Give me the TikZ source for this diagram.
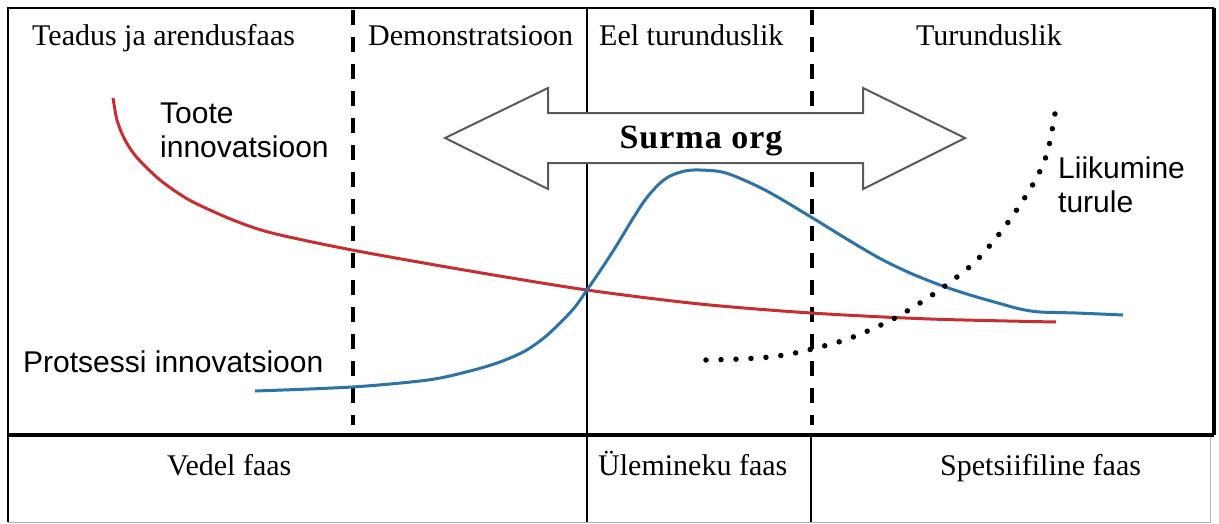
\documentclass[tikz,border=0pt]{standalone}
\usepackage{fontspec}
\setmainfont{Liberation Serif}
\newfontfamily\labelsans{Liberation Sans}

\definecolor{prodred}{RGB}{200,45,50}
\definecolor{procblue}{RGB}{45,115,165}
\definecolor{arrowgray}{RGB}{90,90,90}

\begin{document}
\begin{tikzpicture}[x=1pt,y=-1pt,
    phase/.style={font=\fontsize{30}{34}\selectfont, anchor=base west, inner sep=0pt},
    curvelabel/.style={font=\labelsans\fontsize{30}{34}\selectfont, inner sep=0pt, align=left},
    divider/.style={line width=3.5pt, dash pattern=on 15pt off 12pt},
    marketdots/.style={line width=5.5pt, line cap=round, dash pattern=on 0pt off 15pt}]
    \useasboundingbox (0,0) rectangle (1219,523);

    \coordinate (TL) at (8,8);
    \coordinate (TR) at (1214,8);
    \coordinate (ML) at (8,435);
    \coordinate (MR) at (1214,435);
    \coordinate (BL) at (8,522);
    \coordinate (BR) at (1210,522);

    % frame and table lines
    \draw [line width=2.5pt] (ML)--(TL)--(TR);
    \draw [line width=3.5pt] (TR)--(MR);
    \draw [line width=2.5pt] (ML)--(BL);
    \draw [gray!60, line width=1pt] (BL)--(BR)--(1210,435);
    \draw [line width=4.5pt] (ML)--(MR);
    \draw [line width=1.2pt] (587,8)--(587,435);
    \draw [line width=2.5pt] (587,435)--(587,522);
    \draw [line width=2.5pt] (811,435)--(811,522);
    \draw [divider] (353,10)--(353,425);
    \draw [divider] (812,10)--(812,425);

    % double arrow
    \draw [draw=arrowgray, fill=white, line width=2pt, line join=miter]
        (445,138)--(548,88)--(548,113)--(863,113)--(863,88)--(965,138)
        --(863,189)--(863,163)--(548,163)--(548,189)--cycle;
    \node [font=\bfseries\fontsize{34}{36}\selectfont\addfontfeature{LetterSpace=3}, anchor=base, inner sep=0pt] (valley) at (701,148) {Surma org};

    % curves
    \draw [prodred, line width=3pt] plot [smooth] coordinates {
        (113,98) (117,120) (124,138) (134,154) (146,167) (160,180) (178,193)
        (195,203) (233,220) (272,233) (352,250) (470,271) (587,290) (700,304)
        (811,313) (930,319) (1056,322)};
    \draw [procblue, line width=3pt] plot [smooth] coordinates {
        (255,391) (352,387) (428,380) (470,371) (500,362) (525,351) (545,337)
        (562,321) (575,307) (587,290) (600,271) (615,248) (632,220) (645,200)
        (658,185) (670,176) (685,171) (700,170) (726,173) (765,190) (811,217)
        (850,241) (881,259) (910,273) (940,285) (970,295) (998,303) (1020,309)
        (1040,312) (1076,313) (1123,315)};
    \draw [marketdots] plot [smooth] coordinates {
        (706,360) (740,359) (770,357) (795,353) (820,347) (845,340) (870,330)
        (895,318) (920,303) (945,286) (975,262) (1000,233) (1020,205) (1037,177)
        (1048,150) (1057,102)};

    % phase labels
    \node [phase] (research) at (32,45) {Teadus ja arendusfaas};
    \node [phase] (demo) at (368,45) {Demonstratsioon};
    \node [phase] (premarket) at (599,45) {Eel turunduslik};
    \node [phase] (market) at (916,45) {Turunduslik};
    \node [phase] (fluid) at (167,475) {Vedel faas};
    \node [phase] (transition) at (598,475) {Ülemineku faas};
    \node [phase] (specific) at (940,475) {Spetsiifiline faas};

    % curve labels
    \node [curvelabel, anchor=north west] (product) at (160,103) {Toote\\innovatsioon};
    \node [curvelabel, anchor=base west] (process) at (23,372) {Protsessi innovatsioon};
    \node [curvelabel, anchor=north west] (tomarket) at (1058,157) {Liikumine\\turule};
\end{tikzpicture}
\end{document}
